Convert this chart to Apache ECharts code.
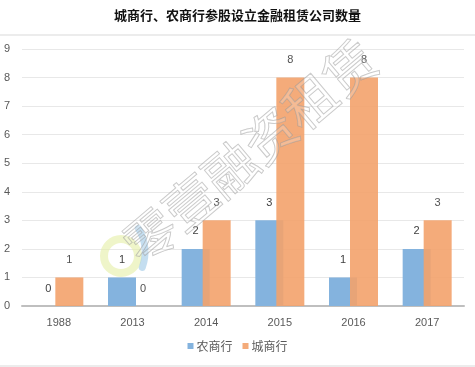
<!DOCTYPE html>
<html><head><meta charset="utf-8">
<script src="https://cdn.jsdelivr.net/npm/echarts@6/dist/echarts.min.js"></script>
<style>html,body{margin:0;padding:0;background:#fff}#c{width:475px;height:367px}</style>
</head><body><div id="c"></div>
<script>
const title = '城商行、农商行参股设立金融租赁公司数量';
const categories = ['1988', '2013', '2014', '2015', '2016', '2017'];
const ruralBanks = [0, 1, 2, 3, 1, 2];   // 农商行
const cityBanks = [1, 0, 3, 8, 8, 3];    // 城商行
const seriesNames = ['农商行', '城商行'];
const yTicks = [0, 1, 2, 3, 4, 5, 6, 7, 8, 9];

const chart = echarts.init(document.getElementById('c'), null, {renderer: 'canvas'});
const lab = {show: true, position: 'top', color: '#404040', fontSize: 11, distance: 12, fontFamily: 'Liberation Sans, Arial, sans-serif'};
chart.setOption({
  animation: false,
  backgroundColor: '#fff',
  title: {text: title, left: 'center', top: 4,
    textStyle: {fontSize: 13, fontWeight: 'bold', color: '#111', fontFamily: 'Noto Sans CJK SC'}},
  legend: {data: seriesNames, bottom: 10, left: 'center', itemWidth: 6, itemHeight: 6, itemGap: 10,
    icon: 'rect',
    textStyle: {fontSize: 12, color: '#595959', fontFamily: 'Noto Sans CJK SC', padding: [0, 0, 0, -2]}},
  grid: {left: 22, right: 11, top: 49, bottom: 61, containLabel: false},
  xAxis: {type: 'category', data: categories,
    axisLine: {lineStyle: {color: '#BFBFBF', width: 2}},
    axisTick: {show: false},
    axisLabel: {color: '#595959', fontSize: 11, margin: 11, fontFamily: 'Liberation Sans, Arial, sans-serif'}},
  yAxis: {type: 'value', min: yTicks[0], max: yTicks[yTicks.length - 1], interval: 1,
    axisLine: {show: false}, axisTick: {show: false},
    splitLine: {lineStyle: {color: '#E8E8E8'}},
    axisLabel: {color: '#595959', fontSize: 11, margin: 12, fontFamily: 'Liberation Sans, Arial, sans-serif'}},
  graphic: [
    {type: 'line', shape: {x1: 0, y1: 35, x2: 475, y2: 35}, style: {stroke: '#D9D9D9', lineWidth: 1}, z: 0},
    {type: 'line', shape: {x1: 0, y1: 366, x2: 475, y2: 366}, style: {stroke: '#D9D9D9', lineWidth: 1}, z: 0},
    {type: 'circle', shape: {cx: 121, cy: 256, r: 17}, style: {fill: 'none', stroke: 'rgba(228,238,165,0.6)', lineWidth: 8}, z: 100},
    {type: 'arc', shape: {cx: 100, cy: 252, r: 45, startAngle: -0.55, endAngle: 0.35}, style: {fill: 'none', stroke: 'rgba(165,205,232,0.65)', lineWidth: 7, lineCap: 'round'}, z: 100},
    {type: 'text', x: 250, y: 152, rotation: 0.70,
      style: {text: '零壹融资租赁', font: '52px "Noto Sans CJK SC"', fill: 'rgba(255,255,255,0.2)', stroke: 'rgba(150,150,150,0.55)', lineWidth: 1, align: 'center', verticalAlign: 'middle'}, z: 100}
  ],
  series: [
    {name: seriesNames[0], type: 'bar', data: ruralBanks, barWidth: 28, barGap: '-25%',
      itemStyle: {color: '#84B3DE'}, label: lab},
    {name: seriesNames[1], type: 'bar', data: cityBanks, barWidth: 28,
      itemStyle: {color: '#F3A26C', opacity: 0.9}, label: lab}
  ]
});
</script></body></html>
